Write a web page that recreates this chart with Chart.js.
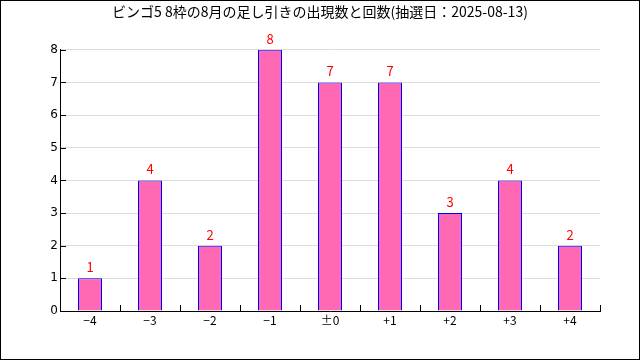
<!DOCTYPE html>
<html><head><meta charset="utf-8">
<script src="https://cdn.jsdelivr.net/npm/chart.js@4/dist/chart.umd.min.js"></script>
<style>
html,body{margin:0;padding:0;background:#fff;}
#wrap{width:640px;height:360px;box-sizing:border-box;border:1px solid #000;position:relative;}
canvas{display:block;}
</style></head><body>
<div id="wrap"><canvas id="c" width="638" height="358"></canvas></div>
<script>
const titleText = 'ビンゴ5 8枠の8月の足し引きの出現数と回数(抽選日：2025-08-13)';
const categories = ['−4','−3','−2','−1','±0','+1','+2','+3','+4'];
const counts = [1,4,2,8,7,7,3,4,2];
const yTicks = [0,1,2,3,4,5,6,7,8];

const FONT = '"Noto Sans CJK JP", "DejaVu Sans", sans-serif';

const extras = {
  id: 'extras',
  afterDatasetsDraw(chart) {
    const ctx = chart.ctx;
    const x = chart.scales.x, y = chart.scales.y;
    const ca = chart.chartArea;
    ctx.save();
    ctx.strokeStyle = '#000';
    ctx.lineWidth = 1;
    const n = categories.length;
    const step = (ca.right - ca.left) / n;
    ctx.beginPath();
    for (let i = 1; i <= n; i++) {
      const px = Math.round(x.getPixelForValue(i - 1) + step / 2) + 0.5;
      ctx.moveTo(px, ca.bottom);
      ctx.lineTo(px, ca.bottom - 6);
    }
    yTicks.forEach(v => {
      const py = Math.round(y.getPixelForValue(v)) + 0.5;
      ctx.moveTo(ca.left, py);
      ctx.lineTo(ca.left + 6, py);
    });
    ctx.stroke();
    ctx.fillStyle = '#ff0000';
    ctx.font = '13px ' + FONT;
    ctx.textAlign = 'center';
    ctx.textBaseline = 'alphabetic';
    const meta = chart.getDatasetMeta(0);
    meta.data.forEach((bar, i) => {
      ctx.fillText(String(counts[i]), bar.x, bar.y - 6);
    });
    ctx.restore();
  }
};

new Chart(document.getElementById('c'), {
  type: 'bar',
  data: {
    labels: categories,
    datasets: [{
      data: counts,
      backgroundColor: '#ff69b4',
      borderColor: '#0000ff',
      borderWidth: 1,
      categoryPercentage: 0.4,
      barPercentage: 1.0
    }]
  },
  options: {
    responsive: false,
    animation: false,
    devicePixelRatio: 1,
    layout: { padding: { left: 39, right: 39, top: 0, bottom: 28 } },
    plugins: {
      legend: { display: false },
      tooltip: { enabled: false },
      title: {
        display: true,
        text: titleText,
        color: '#000',
        font: { family: FONT, size: 14, weight: 'normal' },
        padding: { top: 2, bottom: 30 }
      }
    },
    scales: {
      x: {
        grid: { display: false, drawTicks: false },
        border: { display: true, color: '#000', width: 1 },
        ticks: { color: '#000', font: { family: FONT, size: 12 }, padding: 2 },
        afterFit(s) { s.height = 20; }
      },
      y: {
        min: 0, max: 8,
        grid: { color: '#dcdcdc', drawTicks: false },
        border: { display: true, color: '#000', width: 1 },
        ticks: { stepSize: 1, color: '#000', font: { family: 'DejaVu Sans, sans-serif', size: 12 }, padding: 2 },
        afterFit(s) { s.width = 20; }
      }
    }
  },
  plugins: [extras]
});
</script>
</body></html>
